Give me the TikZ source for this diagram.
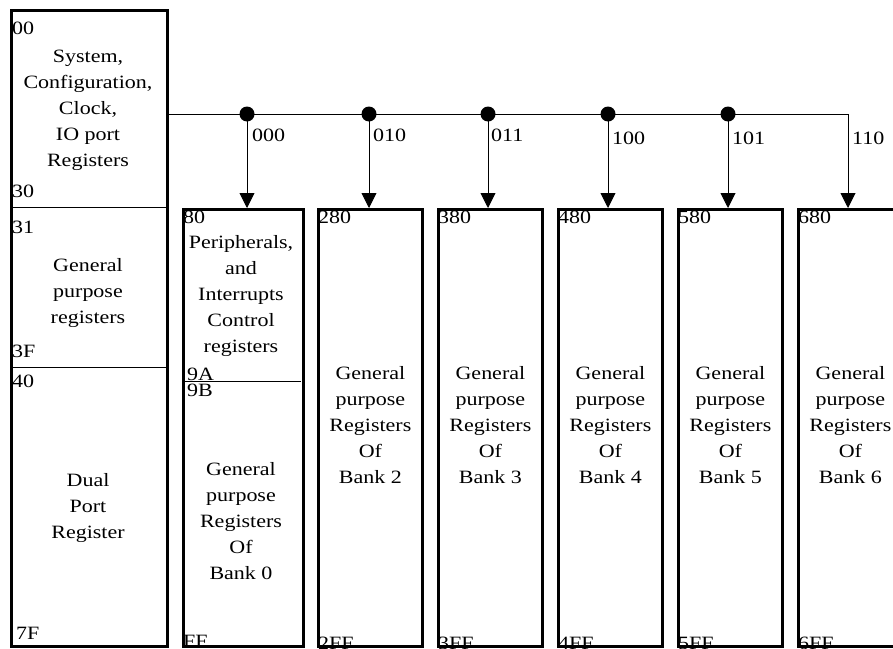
\documentclass[tikz,border=0pt]{standalone}
\usepackage{fontspec}
\setmainfont{Liberation Serif}[FakeStretch=1.17]
\usetikzlibrary{arrows.meta,positioning}
\tikzset{
  membox/.style={draw, line width=2.8pt, anchor=north west, inner sep=0pt,
    minimum width=#1, minimum height=437},
  sep/.style={line width=0.9pt},
  txt/.style={align=center, inner sep=0pt, font=\fontsize{18.8}{26}\selectfont},
  addr/.style={anchor=base west, inner sep=0pt, font=\fontsize{18.8}{26}\selectfont},
  bus/.style={line width=0.9pt},
  tapdot/.style={circle, fill=black, inner sep=0pt, minimum size=15},
  tap/.style={line width=0.9pt, -{Triangle[length=15pt, width=15pt]}}
}

\begin{document}
\begin{tikzpicture}[x=1pt, y=-1pt]
	\useasboundingbox (0,0) rectangle (893,648);
	%%%%% LEFT BLOCK %%%%%
	\node[membox=156, minimum height=636] (sys) at (10,9) {};
	\draw[sep] (10,207) -- (166,207);
	\draw[sep] (10,367) -- (166,367);
	
	\node[txt] (systxt) at (88,110) {System,\\Configuration,\\Clock,\\IO port\\Registers};
	\node[txt] (gptxt) at (88,293) {General\\purpose\\registers};
	\node[txt] (dptxt) at (88,508) {Dual\\Port\\Register};
	
	\node[addr] (a00) at (12,34) {00};
	\node[addr] (a30) at (12,197) {30};
	\node[addr] (a31) at (12,233) {31};
	\node[addr] (a3F) at (12,357) {3F};
	\node[addr] (a40) at (12,387) {40};
	\node[addr] (a7F) at (16,639) {7F};
	
	%%%%% BANKS %%%%%
	\node[membox=120] (b0) at (182,208) {};
	\node[membox=104] (b2) at (317,208) {};
	\node[membox=104] (b3) at (437,208) {};
	\node[membox=104] (b4) at (557,208) {};
	\node[membox=104] (b5) at (677,208) {};
	\node[membox=104] (b6) at (797,208) {};
	
	\draw[sep] (182,381) -- (301,381);
	\node[txt] (pirtxt) at (241,296) {Peripherals,\\and\\Interrupts\\Control\\registers};
	\node[txt] (gp0) at (241,521) {General\\purpose\\Registers\\Of\\Bank 0};
	\foreach \b in {2,...,6}
		\node[txt, yshift=3pt] (gp\b) at (b\b.center) {General\\purpose\\Registers\\Of\\Bank \b};
	
	\node[addr] (a80) at (183,223) {80};
	\node[addr] (a9A) at (187,380) {9A};
	\node[addr] (a9B) at (187,396) {9B};
	\node[addr] (aFF) at (183,647) {FF};
	\foreach \b in {2,...,6} {
		\node[addr] (top\b) at ([xshift=1pt, yshift=-15pt]b\b.north west) {\b80};
		\node[addr] (bot\b) at ([xshift=1pt, yshift=-2pt]b\b.south west) {\b FF};
	}
	
	%%%%% BUS %%%%%
	\coordinate (busend) at (848,114);
	\draw[bus] (166,114) -- (busend);
	\node[tapdot] (t0) at (247,114) {};
	\node[tapdot] (t2) at (369,114) {};
	\node[tapdot] (t3) at (488,114) {};
	\node[tapdot] (t4) at (608,114) {};
	\node[tapdot] (t5) at (728,114) {};
	
	\draw[tap] (t0.center) -- (t0 |- b0.north);
	\draw[tap] (t2.center) -- (t2 |- b2.north);
	\draw[tap] (t3.center) -- (t3 |- b3.north);
	\draw[tap] (t4.center) -- (t4 |- b4.north);
	\draw[tap] (t5.center) -- (t5 |- b5.north);
	\draw[tap] (busend) -- (busend |- b6.north);
	
	\node[addr] (s0) at (252,141) {000};
	\node[addr] (s2) at (373,141) {010};
	\node[addr] (s3) at (491,141) {011};
	\node[addr] (s4) at (612,144) {100};
	\node[addr] (s5) at (732,144) {101};
	\node[addr] (s6) at (852,144) {110};
\end{tikzpicture}
\end{document}
